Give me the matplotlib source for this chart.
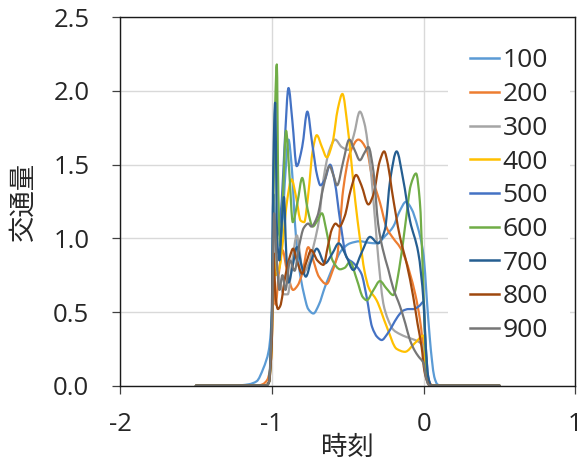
import numpy as np
import matplotlib
matplotlib.use("Agg")
import matplotlib.pyplot as plt
from matplotlib.path import Path
from matplotlib.patches import PathPatch
from matplotlib.lines import Line2D

plt.rcParams['font.family'] = ['Open Sans', 'Noto Sans CJK JP', 'DejaVu Sans']

# values (time, traffic volume)
t100 = [-1.5, -1.25, -1.15, -1.1, -1.055, -1.02, -1.007, -0.995, -0.985, -0.97, -0.95, -0.93, -0.91,
        -0.89, -0.87, -0.846, -0.82, -0.79, -0.76, -0.726, -0.69, -0.65, -0.595, -0.54, -0.485, -0.42,
        -0.36, -0.31, -0.25, -0.2, -0.16, -0.116, -0.08, -0.04, 0.0, 0.02, 0.04, 0.055, 0.07, 0.09, 0.11, 0.5]
v100 = [0, 0, 0.01, 0.03, 0.12, 0.24, 0.36, 0.6, 1.0, 0.85, 0.9, 1.1, 1.45,
        1.67, 1.5, 1.08, 0.8, 0.63, 0.52, 0.49, 0.55, 0.67, 0.81, 0.92, 0.966, 0.98,
        0.97, 0.966, 1.02, 1.08, 1.18, 1.248, 1.2, 1.08, 0.88, 0.6, 0.33, 0.17, 0.06, 0.01, 0, 0]

t200 = [-1.5, -1.1, -1.06, -1.03, -1.01, -1.0, -0.99, -0.975, -0.955, -0.93, -0.9, -0.86, -0.83, -0.8,
        -0.76, -0.73, -0.69, -0.64, -0.6, -0.57, -0.53, -0.485, -0.43, -0.375, -0.34, -0.287, -0.243,
        -0.2, -0.156, -0.12, -0.09, -0.055, -0.024, 0.008, 0.025, 0.04, 0.06, 0.5]
v200 = [0, 0, 0.01, 0.04, 0.12, 0.3, 0.8, 0.55, 0.75, 0.92, 0.78, 0.65, 0.68, 0.76,
        0.94, 0.86, 0.74, 0.69, 0.78, 0.88, 1.33, 1.58, 1.67, 1.6, 1.42, 1.24, 1.07,
        1.0, 0.94, 0.86, 0.76, 0.62, 0.446, 0.17, 0.06, 0.02, 0, 0]

t300 = [-1.5, -1.04, -1.02, -1.0, -0.99, -0.975, -0.95, -0.92, -0.895, -0.865, -0.835, -0.815, -0.796,
        -0.76, -0.72, -0.69, -0.66, -0.62, -0.583, -0.54, -0.496, -0.46, -0.42, -0.39, -0.353, -0.33,
        -0.31, -0.285, -0.266, -0.235, -0.2, -0.156, -0.112, -0.07, -0.036, 0.0, 0.015, 0.03, 0.05, 0.5]
v300 = [0, 0, 0.02, 0.3, 1.1, 0.85, 0.72, 0.62, 0.62, 0.85, 1.02, 0.9, 0.76,
        0.82, 0.97, 1.12, 1.4, 1.6, 1.67, 1.62, 1.6, 1.7, 1.86, 1.78, 1.51, 1.25,
        1.0, 0.72, 0.56, 0.45, 0.38, 0.35, 0.33, 0.315, 0.3, 0.26, 0.12, 0.04, 0, 0]

t400 = [-1.5, -1.04, -1.02, -1.0, -0.99, -0.975, -0.95, -0.925, -0.9, -0.87, -0.84, -0.81, -0.787,
        -0.76, -0.73, -0.704, -0.67, -0.638, -0.6, -0.565, -0.535, -0.5, -0.45, -0.42, -0.39, -0.36,
        -0.31, -0.243, -0.178, -0.123, -0.057, 0.0, 0.008, 0.015, 0.03, 0.05, 0.5]
v400 = [0, 0, 0.02, 0.3, 0.9, 0.75, 0.8, 1.0, 1.25, 1.4, 1.28, 1.12, 1.11,
        1.3, 1.6, 1.7, 1.62, 1.55, 1.65, 1.88, 1.98, 1.75, 1.25, 1.0, 0.78, 0.66,
        0.58, 0.4, 0.25, 0.23, 0.29, 0.34, 0.25, 0.08, 0.02, 0, 0]

t500 = [-1.5, -1.04, -1.02, -1.0, -0.99, -0.975, -0.955, -0.935, -0.915, -0.89, -0.865, -0.836, -0.8,
        -0.766, -0.735, -0.7, -0.68, -0.65, -0.616, -0.585, -0.55, -0.507, -0.46, -0.41, -0.375, -0.34,
        -0.305, -0.276, -0.24, -0.21, -0.17, -0.134, -0.1, -0.068, -0.03, 0.0, 0.012, 0.03, 0.05, 0.5]
v500 = [0, 0, 0.02, 0.4, 1.3, 1.0, 1.05, 1.25, 1.65, 2.02, 1.8, 1.49, 1.62,
        1.86, 1.65, 1.42, 1.36, 1.4, 1.5, 1.38, 1.12, 0.87, 0.83, 0.76, 0.6, 0.4,
        0.33, 0.31, 0.35, 0.4, 0.47, 0.51, 0.52, 0.52, 0.54, 0.57, 0.3, 0.06, 0, 0]

t600 = [-1.5, -1.04, -1.02, -1.0, -0.99, -0.978, -0.967, -0.957, -0.945, -0.928, -0.906, -0.885, -0.862,
        -0.83, -0.8, -0.765, -0.73, -0.7, -0.67, -0.64, -0.6, -0.55, -0.52, -0.485, -0.44, -0.4,
        -0.375, -0.33, -0.288, -0.245, -0.2, -0.16, -0.12, -0.085, -0.05, -0.025, -0.005, 0.01, 0.025,
        0.04, 0.5]
v600 = [0, 0, 0.02, 0.4, 1.2, 1.9, 2.18, 1.3, 0.95, 1.25, 1.73, 1.45, 1.11,
        1.25, 1.41, 1.2, 1.08, 1.12, 1.17, 1.05, 0.85, 0.79, 0.8, 0.84, 0.72, 0.6,
        0.58, 0.65, 0.71, 0.66, 0.615, 0.8, 1.1, 1.36, 1.44, 1.25, 0.76, 0.3, 0.06,
        0, 0]

t700 = [-1.5, -1.04, -1.02, -1.0, -0.99, -0.978, -0.965, -0.95, -0.935, -0.92, -0.905, -0.89, -0.865,
        -0.835, -0.8, -0.776, -0.74, -0.704, -0.65, -0.6, -0.56, -0.51, -0.463, -0.41, -0.353, -0.3,
        -0.255, -0.22, -0.178, -0.135, -0.09, -0.035, 0.0, 0.012, 0.03, 0.05, 0.5]
v700 = [0, 0, 0.02, 0.5, 1.5, 1.92, 1.0, 0.85, 1.1, 1.28, 0.9, 0.7, 0.8,
        0.94, 0.8, 0.74, 0.85, 0.93, 0.83, 0.9, 0.966, 0.88, 0.785, 0.9, 1.01, 0.966,
        1.06, 1.4, 1.59, 1.4, 1.12, 0.9, 0.56, 0.3, 0.06, 0, 0]

t800 = [-1.5, -1.04, -1.02, -1.0, -0.99, -0.975, -0.96, -0.945, -0.91, -0.88, -0.86, -0.835, -0.8,
        -0.775, -0.74, -0.7, -0.66, -0.63, -0.605, -0.58, -0.555, -0.52, -0.48, -0.445, -0.41, -0.364,
        -0.33, -0.29, -0.26, -0.235, -0.21, -0.156, -0.11, -0.068, -0.04, -0.013, 0.005, 0.02, 0.04, 0.5]
v800 = [0, 0, 0.02, 0.3, 0.9, 0.6, 0.52, 0.54, 0.75, 0.88, 0.93, 0.85, 0.76,
        0.83, 0.92, 0.85, 0.82, 0.95, 1.06, 1.1, 1.08, 1.15, 1.33, 1.43, 1.36, 1.23,
        1.3, 1.52, 1.59, 1.5, 1.33, 1.01, 0.82, 0.6, 0.42, 0.26, 0.1, 0.04, 0, 0]

t900 = [-1.5, -1.04, -1.02, -1.0, -0.985, -0.97, -0.95, -0.93, -0.91, -0.88, -0.85, -0.82, -0.79,
        -0.76, -0.74, -0.7, -0.66, -0.62, -0.595, -0.57, -0.53, -0.49, -0.455, -0.42, -0.39, -0.364,
        -0.33, -0.3, -0.27, -0.233, -0.2, -0.156, -0.12, -0.09, -0.06, -0.035, 0.0, 0.015, 0.03, 0.05, 0.5]
v900 = [0, 0, 0.02, 0.4, 1.17, 0.9, 0.65, 0.75, 0.65, 0.85, 0.78, 0.95, 1.07,
        1.1, 1.08, 1.15, 1.35, 1.49, 1.43, 1.36, 1.52, 1.67, 1.6, 1.53, 1.58, 1.62,
        1.45, 1.1, 0.93, 0.79, 0.66, 0.54, 0.42, 0.31, 0.24, 0.2, 0.15, 0.06, 0.01, 0, 0]

labels = ['100', '200', '300', '400', '500', '600', '700', '800', '900']
times = [t100, t200, t300, t400, t500, t600, t700, t800, t900]
values = [v100, v200, v300, v400, v500, v600, v700, v800, v900]
colors = ['#5B9BD5', '#ED7D31', '#A5A5A5', '#FFC000', '#4472C4',
          '#70AD47', '#255E91', '#9E480E', '#767676']

x_ticks = [-2, -1, 0, 1]
y_ticks = [0.0, 0.5, 1.0, 1.5, 2.0, 2.5]


def smooth_path(x, y):
    # excel-like smoothed line: monotone cubic bezier through the read points
    x = np.asarray(x, float)
    y = np.asarray(y, float)
    h = np.diff(x)
    d = np.diff(y) / h
    m = np.zeros_like(y)
    for i in range(1, len(y) - 1):
        if d[i - 1] * d[i] > 0:
            w1 = 2 * h[i] + h[i - 1]
            w2 = h[i] + 2 * h[i - 1]
            m[i] = (w1 + w2) / (w1 / d[i - 1] + w2 / d[i])
    verts = [(x[0], y[0])]
    codes = [Path.MOVETO]
    for i in range(len(x) - 1):
        verts += [(x[i] + h[i] / 3, y[i] + m[i] * h[i] / 3),
                  (x[i + 1] - h[i] / 3, y[i + 1] - m[i + 1] * h[i] / 3),
                  (x[i + 1], y[i + 1])]
        codes += [Path.CURVE4] * 3
    return Path(verts, codes)


fig = plt.figure(figsize=(5.83, 4.66), dpi=100)
ax = fig.add_axes([0.2058, 0.1723, 0.7813, 0.7906])

handles = []
for t, v, c, lab in zip(times, values, colors, labels):
    ax.add_patch(PathPatch(smooth_path(t, v), facecolor='none', edgecolor=c,
                           lw=1.6, capstyle='round', joinstyle='round'))
    handles.append(Line2D([], [], color=c, lw=1.8, label=lab))

ax.set_xlim(-2, 1)
ax.set_ylim(0, 2.5)
ax.set_xticks(x_ticks)
ax.set_xticklabels([str(v) for v in x_ticks])
ax.set_yticks(y_ticks)
ax.set_yticklabels(['%.1f' % v for v in y_ticks])

ax.set_axisbelow(True)
ax.grid(color='#D9D9D9', lw=1.0)
for s in ax.spines.values():
    s.set_color('#1a1a1a')
    s.set_linewidth(1.0)
ax.tick_params(axis='both', direction='out', length=6, width=0.9, color='#404040',
               labelsize=18.5, labelcolor='#262626')
ax.tick_params(axis='y', pad=16)
ax.tick_params(axis='x', pad=13)

ax.set_xlabel('時刻', fontsize=19, color='#262626', va='center')
ax.xaxis.set_label_coords(0.5, -0.17)
ax.set_ylabel('交通量', fontsize=19, color='#262626', va='center', ha='center')
ax.yaxis.set_label_coords(-0.211, 0.5)

leg = ax.legend(handles=handles, loc='upper left', bbox_to_anchor=(448 / 583, 1 - 26 / 466),
                bbox_transform=fig.transFigure, fontsize=19, frameon=True, fancybox=False,
                framealpha=1, facecolor='white', edgecolor='none', borderaxespad=0,
                borderpad=0.85, handlelength=1.1, handletextpad=0.12, labelspacing=0.33)
for txt in leg.get_texts():
    txt.set_color('#262626')

fig.savefig('out.png', dpi=100)
